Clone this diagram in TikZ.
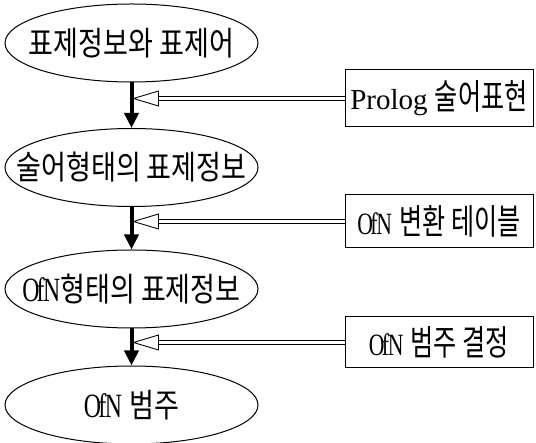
\documentclass[tikz,border=0pt]{standalone}
\usepackage{graphicx}
\usepackage{fontspec}
\setmainfont{Liberation Serif}
\newfontfamily\krfont[FakeStretch=0.82]{Noto Sans CJK KR}
\newfontfamily\krbox[FakeStretch=0.72]{Noto Sans CJK KR}
\usetikzlibrary{shapes.geometric,arrows.meta,calc}
\newcommand\ko[1]{{\krfont\fontsize{33}{38}\selectfont #1}}
\newcommand\kb[1]{{\krbox\fontsize{35}{40}\selectfont #1}}
\newcommand\ofn{\scalebox{0.7}[1]{O\kern-.12em f\kern-.06em N}}
\newcommand\ofnbig{{\fontsize{34}{38}\selectfont\ofn}}
\newcommand\ofnbox{{\fontsize{31}{36}\selectfont\ofn}}
\begin{document}
\begin{tikzpicture}[x=1pt,y=1pt,
  every node/.style={font=\fontsize{29}{34}\selectfont},
  ell/.style={ellipse, draw, line width=1pt, minimum width=253pt, minimum height=78pt, inner sep=0pt},
  box/.style={rectangle, draw, line width=1pt, minimum width=188pt, inner sep=0pt},
  flow/.style={line width=4pt, -{Triangle[width=14pt,length=15pt]}},
  dbl/.style={line width=0.9pt, double distance=3.2pt},
  hollowhead/.style={line width=0.9pt, fill=white, line join=miter}]
\useasboundingbox (0,0) rectangle (536,-443);
\node[ell] (e1) at (131.5,-43) {\makebox[0pt]{\ko{표제정보와 표제어}}};
\node[ell] (e2) at (131.5,-167.5) {\makebox[0pt]{\ko{술어형태의 표제정보}}};
\node[ell] (e3) at (131.5,-289) {\makebox[0pt]{\ofnbig\ko{형태의 표제정보}}};
\node[ell] (e4) at (131.5,-405) {\makebox[0pt]{\ofnbig\ \ko{범주}}};
\node[box, minimum height=57pt] (b1) at (439,-98.5) {Prolog \kb{술어표현}};
\node[box, minimum height=53pt] (b2) at (439,-221.5) {\ofnbox\ \kb{변환 테이블}};
\node[box, minimum height=51pt] (b3) at (439,-342.5) {\ofnbox\ \kb{범주 결정}};
\draw[flow] (e1.south) -- (e2.north);
\draw[flow] (e2.south) -- (e3.north);
\draw[flow] (e3.south) -- (e4.north);
\foreach \e/\b in {e1/b1,e2/b2,e3/b3}{
  \coordinate (t\b) at ($(\e.south |- \b.west)+(2,0)$);
  \coordinate (s\b) at ($(t\b)+(25,0)$);
  \draw[dbl] (\b.west) -- (s\b);
  \draw[hollowhead] (t\b) -- ($(s\b)+(0,7.5)$) -- ($(s\b)+(0,-7.5)$) -- cycle;
}
\end{tikzpicture}
\end{document}
